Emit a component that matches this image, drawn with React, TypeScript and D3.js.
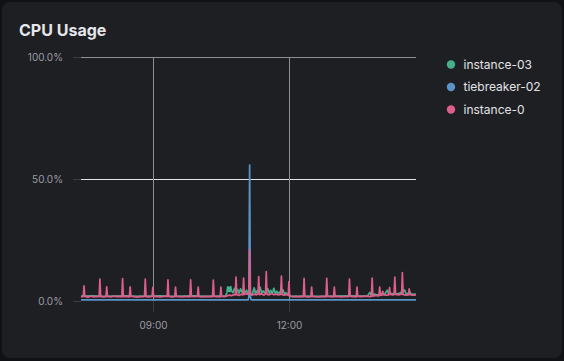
import * as React from "react";
import * as d3 from "d3";

// chart values
const seriesNames = ["instance-03", "tiebreaker-02", "instance-0"];
const seriesColors = ["#45b08b", "#5a94c8", "#dc5e8b"];
const yTicks = [0, 50, 100];
const xTickLabels = ["09:00", "12:00"];
const timeDomain = ["07:25", "14:48"];

const instance03: [string, number][] = [
  ["07:25", 2.0], ["07:40", 2.1], ["07:55", 1.9], ["08:10", 2.0], ["08:25", 2.1], ["08:40", 1.9],
  ["08:55", 2.0], ["09:10", 2.1], ["09:25", 1.9], ["09:40", 2.0], ["09:55", 2.1], ["10:10", 1.9],
  ["10:25", 2.0], ["10:36", 2.0], ["10:38", 3.5], ["10:39", 5.8], ["10:40", 4.0], ["10:41", 5.6],
  ["10:42", 3.8], ["10:43", 5.9], ["10:44", 4.2], ["10:46", 3.4], ["10:48", 5.2], ["10:50", 3.6],
  ["10:52", 4.8], ["10:54", 3.2], ["10:56", 5.0], ["10:58", 3.5], ["11:00", 4.6], ["11:02", 3.3],
  ["11:04", 4.4], ["11:06", 3.0], ["11:08", 4.0], ["11:10", 2.6], ["11:12", 3.2], ["11:14", 5.4],
  ["11:16", 3.0], ["11:18", 4.2], ["11:20", 3.4], ["11:22", 5.6], ["11:24", 3.1], ["11:26", 4.1],
  ["11:28", 3.3], ["11:32", 5.0], ["11:34", 3.2], ["11:36", 4.4], ["11:38", 3.0], ["11:40", 5.2],
  ["11:42", 3.1], ["11:44", 4.0], ["11:46", 2.9], ["11:48", 3.8], ["11:50", 2.8], ["11:52", 4.6],
  ["11:54", 3.0], ["11:56", 3.4], ["11:58", 2.6], ["12:00", 2.2], ["12:02", 1.9], ["12:20", 2.0],
  ["12:40", 1.9], ["13:00", 2.0], ["13:20", 2.1], ["13:40", 2.0], ["13:44", 2.2], ["13:47", 3.5],
  ["13:49", 2.3], ["13:53", 2.8], ["13:57", 2.4], ["14:02", 3.0], ["14:06", 2.6], ["14:10", 4.4],
  ["14:12", 2.7], ["14:16", 3.0], ["14:22", 2.8], ["14:27", 3.3], ["14:33", 4.5], ["14:35", 2.8],
  ["14:40", 3.6], ["14:42", 2.7], ["14:48", 2.8],
];

const tiebreaker02: [string, number][] = [
  ["07:25", 0.5], ["08:30", 0.5], ["09:30", 0.5], ["10:30", 0.5], ["11:06", 0.5], ["11:07", 1.5],
  ["11:08", 55.7], ["11:09", 1.8], ["11:10", 0.5], ["12:00", 0.5], ["13:00", 0.5], ["14:00", 0.5],
  ["14:48", 0.5],
];

const instance0: [string, number][] = [
  ["07:25", 1.7], ["07:27", 1.9], ["07:28", 1.8], ["07:29", 6.2], ["07:30", 1.9], ["07:34", 1.6],
  ["07:38", 2.0], ["07:42", 1.7], ["07:46", 1.9], ["07:49", 1.8], ["07:50", 9.0], ["07:51", 1.9],
  ["07:54", 1.7], ["07:58", 1.8], ["07:59", 5.8], ["08:00", 1.9], ["08:04", 1.7], ["08:08", 2.0],
  ["08:12", 1.8], ["08:16", 1.9], ["08:19", 1.7], ["08:20", 9.2], ["08:21", 1.8], ["08:25", 1.9],
  ["08:29", 1.7], ["08:30", 5.8], ["08:31", 1.9], ["08:35", 1.8], ["08:39", 1.6], ["08:43", 1.9],
  ["08:47", 1.8], ["08:49", 1.9], ["08:50", 9.0], ["08:51", 1.8], ["08:55", 1.7], ["08:59", 1.9],
  ["09:00", 5.6], ["09:01", 1.8], ["09:05", 1.9], ["09:09", 1.7], ["09:13", 1.8], ["09:17", 2.0],
  ["09:19", 1.8], ["09:20", 8.7], ["09:21", 1.9], ["09:25", 1.7], ["09:29", 1.8], ["09:30", 5.7],
  ["09:31", 1.9], ["09:35", 1.8], ["09:39", 1.7], ["09:43", 1.9], ["09:47", 1.8], ["09:49", 1.7],
  ["09:50", 8.7], ["09:51", 1.9], ["09:55", 1.8], ["09:59", 1.9], ["10:00", 5.7], ["10:01", 1.8],
  ["10:05", 1.7], ["10:09", 1.9], ["10:13", 1.8], ["10:17", 1.9], ["10:19", 1.8], ["10:20", 8.6],
  ["10:21", 1.9], ["10:25", 1.8], ["10:29", 1.7], ["10:30", 5.7], ["10:31", 1.9], ["10:35", 1.8],
  ["10:38", 2.1], ["10:41", 2.4], ["10:44", 2.2], ["10:47", 2.6], ["10:49", 2.5], ["10:50", 9.8],
  ["10:51", 2.6], ["10:54", 2.3], ["10:57", 2.8], ["10:59", 2.5], ["11:00", 9.4], ["11:01", 2.7],
  ["11:04", 3.0], ["11:06", 2.6], ["11:07", 3.2], ["11:08", 21.0], ["11:09", 3.0], ["11:11", 2.4],
  ["11:14", 2.8], ["11:17", 2.5], ["11:19", 2.9], ["11:20", 10.0], ["11:21", 2.6], ["11:24", 2.9],
  ["11:27", 2.4], ["11:29", 3.0], ["11:30", 12.0], ["11:31", 2.7], ["11:34", 2.5], ["11:37", 3.1],
  ["11:40", 2.6], ["11:43", 2.8], ["11:46", 2.5], ["11:49", 2.7], ["11:50", 10.2], ["11:51", 2.6],
  ["11:54", 2.4], ["11:57", 2.7], ["11:59", 2.4], ["12:00", 8.0], ["12:01", 2.0], ["12:05", 1.8],
  ["12:09", 1.9], ["12:13", 1.7], ["12:17", 1.9], ["12:19", 1.8], ["12:20", 9.3], ["12:21", 1.9],
  ["12:25", 1.7], ["12:29", 1.8], ["12:30", 5.7], ["12:31", 1.9], ["12:35", 1.8], ["12:39", 1.7],
  ["12:43", 1.9], ["12:47", 1.8], ["12:49", 1.7], ["12:50", 9.3], ["12:51", 1.9], ["12:55", 1.8],
  ["12:59", 1.7], ["13:00", 5.7], ["13:01", 1.8], ["13:05", 1.9], ["13:09", 1.7], ["13:13", 1.8],
  ["13:17", 1.9], ["13:19", 1.8], ["13:20", 9.0], ["13:21", 1.9], ["13:25", 1.8], ["13:29", 1.7],
  ["13:30", 5.7], ["13:31", 1.9], ["13:35", 1.8], ["13:39", 1.9], ["13:43", 2.0], ["13:47", 1.8],
  ["13:49", 1.9], ["13:50", 9.4], ["13:51", 2.0], ["13:55", 2.3], ["13:58", 2.1], ["13:59", 2.2],
  ["14:00", 5.7], ["14:01", 2.3], ["14:03", 2.4], ["14:04", 4.0], ["14:05", 2.6], ["14:09", 2.4],
  ["14:12", 2.5], ["14:13", 5.5], ["14:14", 2.7], ["14:17", 2.5], ["14:19", 2.6], ["14:20", 9.8],
  ["14:21", 2.7], ["14:25", 2.5], ["14:29", 2.8], ["14:30", 11.6], ["14:31", 2.6], ["14:35", 2.4],
  ["14:38", 2.5], ["14:39", 5.0], ["14:40", 2.6], ["14:44", 2.4], ["14:48", 2.5],
];

const allSeries = [instance03, tiebreaker02, instance0];

const W = 564;
const H = 361;
const margin = { top: 57, right: 148, bottom: 60, left: 81 };
const font = "Inter, 'DejaVu Sans', sans-serif";

export default function App() {
  const parse = d3.timeParse("%H:%M");
  const fmt = d3.timeFormat("%H:%M");

  const x = d3.scaleTime()
    .domain(timeDomain.map((t) => parse(t) as Date))
    .range([margin.left, W - margin.right]);
  const y = d3.scaleLinear().domain([0, 100]).range([H - margin.bottom, margin.top]);

  const line = d3.line<[string, number]>()
    .x((d) => x(parse(d[0]) as Date))
    .y((d) => y(d[1]));

  const x0 = margin.left;
  const x1 = W - margin.right;
  const yBottom = y(0);
  const crisp = (v: number) => Math.round(v) + 0.5;

  return (
    <svg width={W} height={H} style={{ position: "absolute", left: 0, top: 0, display: "block" }}>
      <rect x={0} y={0} width={W} height={H} fill="#111215" />
      <rect x={2} y={2} width={W - 4} height={H - 5} rx={8} fill="#1e1f23" />
      <text x={19} y={35.5} fill="#e4e6ea" fontFamily={font} fontWeight={700} fontSize={16}>
        CPU Usage
      </text>

      {/* y axis */}
      {yTicks.map((t) => (
        <g key={t}>
          <line x1={73} x2={x0} y1={crisp(y(t))} y2={crisp(y(t))} stroke="#3a3c42" strokeWidth={1} />
          {t > 0 && (
            <line x1={x0} x2={x1} y1={crisp(y(t))} y2={crisp(y(t))} stroke={t === 50 ? "#e2e3e6" : "#8c8f95"} strokeWidth={1} />
          )}
          <text x={63} y={y(t)} dy="0.35em" textAnchor="end" fill="#9b9da3" fontFamily={font} fontSize={10}>
            {t.toFixed(1) + "%"}
          </text>
        </g>
      ))}

      {/* x axis */}
      {xTickLabels.map((lab) => {
        const xv = crisp(x(parse(lab) as Date));
        return (
          <g key={lab}>
            <line x1={xv} x2={xv} y1={margin.top} y2={yBottom} stroke="#8c8f95" strokeWidth={1} />
            <line x1={xv} x2={xv} y1={yBottom} y2={yBottom + 11} stroke="#3a3c42" strokeWidth={1} />
            <text x={xv} y={325} dy="0.35em" textAnchor="middle" fill="#9b9da3" fontFamily={font} fontSize={10}>
              {fmt(parse(lab) as Date)}
            </text>
          </g>
        );
      })}

      {/* series */}
      {allSeries.map((s, i) => (
        <path key={i} d={line(s) || ""} fill="none" stroke={seriesColors[i]} strokeWidth={1.7} strokeLinejoin="round" />
      ))}

      {/* legend */}
      {seriesNames.map((n, i) => (
        <g key={n} transform={`translate(451,${64.5 + i * 22.5})`}>
          <circle r={4.2} fill={seriesColors[i]} />
          <text x={12.5} dy="0.35em" fill="#e2e4e8" fontFamily={font} fontSize={12}>
            {n}
          </text>
        </g>
      ))}
    </svg>
  );
}
